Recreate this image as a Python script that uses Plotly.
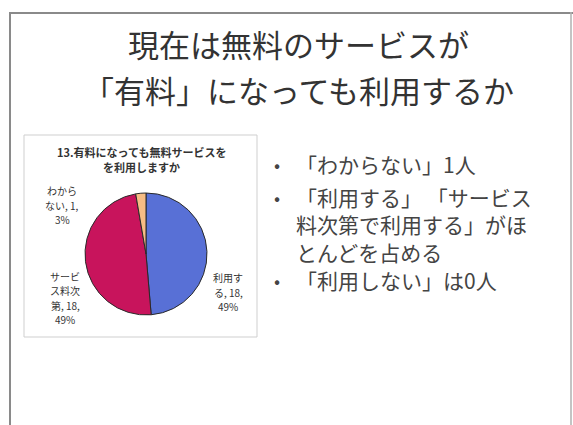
import plotly.graph_objects as go

# ---- data ----
categories = ["利用する", "サービス料次第", "わからない"]
counts = [18, 18, 1]
slice_colors = ["#5870d6", "#c8145c", "#f7bd85"]
slide_title = ["現在は無料のサービスが", "「有料」になっても利用するか"]
chart_title = ["13.有料になっても無料サービスを", "を利用しますか"]
bullets = [
    ["「わからない」1人"],
    ["「利用する」 「サービス", "料次第で利用する」がほ", "とんどを占める"],
    ["「利用しない」は0人"],
]

W, H = 573, 425
FONT = "Noto Sans CJK JP"


def px(x):
    return x / W


def py(y):
    return 1 - y / H


def wrap_label(name, value, total):
    pct = round(value / total * 100)
    chunks = [name[i:i + 3] for i in range(0, len(name), 3)]
    chunks[-1] = f"{chunks[-1]}, {value},"
    chunks.append(f"{pct}%")
    return chunks


total = sum(counts)

fig = go.Figure()
cx, cy, r = 146, 254, 61
fig.add_trace(go.Pie(
    labels=categories,
    values=counts,
    sort=False,
    direction="clockwise",
    rotation=0,
    marker=dict(colors=slice_colors, line=dict(color="#2a2a2a", width=1)),
    textinfo="none",
    hoverinfo="label+value+percent",
    showlegend=False,
    domain=dict(x=[px(cx - r), px(cx + r)], y=[py(cy + r), py(cy - r)]),
))

shapes = [
    # slide frame
    dict(type="line", xref="paper", yref="paper", x0=px(10), x1=px(10), y0=py(12), y1=py(425),
         line=dict(color="#8a8a8a", width=2)),
    dict(type="line", xref="paper", yref="paper", x0=px(9), x1=px(573), y0=py(13), y1=py(13),
         line=dict(color="#8a8a8a", width=2)),
    dict(type="line", xref="paper", yref="paper", x0=px(571), x1=px(571), y0=py(12), y1=py(425),
         line=dict(color="#b0b0b0", width=1.5)),
    # chart box
    dict(type="rect", xref="paper", yref="paper", x0=px(24), x1=px(257), y0=py(337), y1=py(135),
         line=dict(color="#cfcfcf", width=1), fillcolor="rgba(0,0,0,0)"),
]

annotations = []


def add_line(text, x, y, size, color, anchor="center"):
    annotations.append(dict(text=text, x=px(x), y=py(y), xref="paper", yref="paper",
                            showarrow=False, borderpad=0, xanchor=anchor, yanchor="middle",
                            font=dict(family=FONT, size=size, color=color)))


# slide title
for t, yy in zip(slide_title, [44, 89]):
    add_line(t, 298, yy, 31, "#333333")
# chart title
for t, yy in zip(chart_title, [151.5, 167.5]):
    add_line(f"<b>{t}</b>", 141, yy, 11, "#333333")
# slice labels (one annotation per line)
label_pos = [(228, 292), (65, 298), (62, 205)]
for name, val, (lx, ly) in zip(categories, counts, label_pos):
    lines = wrap_label(name, val, total)
    n = len(lines)
    for i, t in enumerate(lines):
        add_line(t, lx, ly + (i - (n - 1) / 2) * 14.5, 10, "#333333")
# bullets
para_y = [164, 224, 280]
for lines, yy in zip(bullets, para_y):
    n = len(lines)
    top = yy - (n - 1) * 27.5 / 2
    add_line("•", 277, top, 18, "#444444")
    annotations.append(dict(text="<br>".join(lines), x=px(294), y=py(yy), xref="paper", yref="paper",
                            showarrow=False, xanchor="left", yanchor="middle", align="left",
                            font=dict(family=FONT, size=21, color="#444444")))

fig.update_layout(
    width=W, height=H,
    margin=dict(l=0, r=0, t=0, b=0),
    paper_bgcolor="white", plot_bgcolor="white",
    shapes=shapes, annotations=annotations,
    font=dict(family=FONT),
)

fig.write_html("out.html", config={"displayModeBar": False})
